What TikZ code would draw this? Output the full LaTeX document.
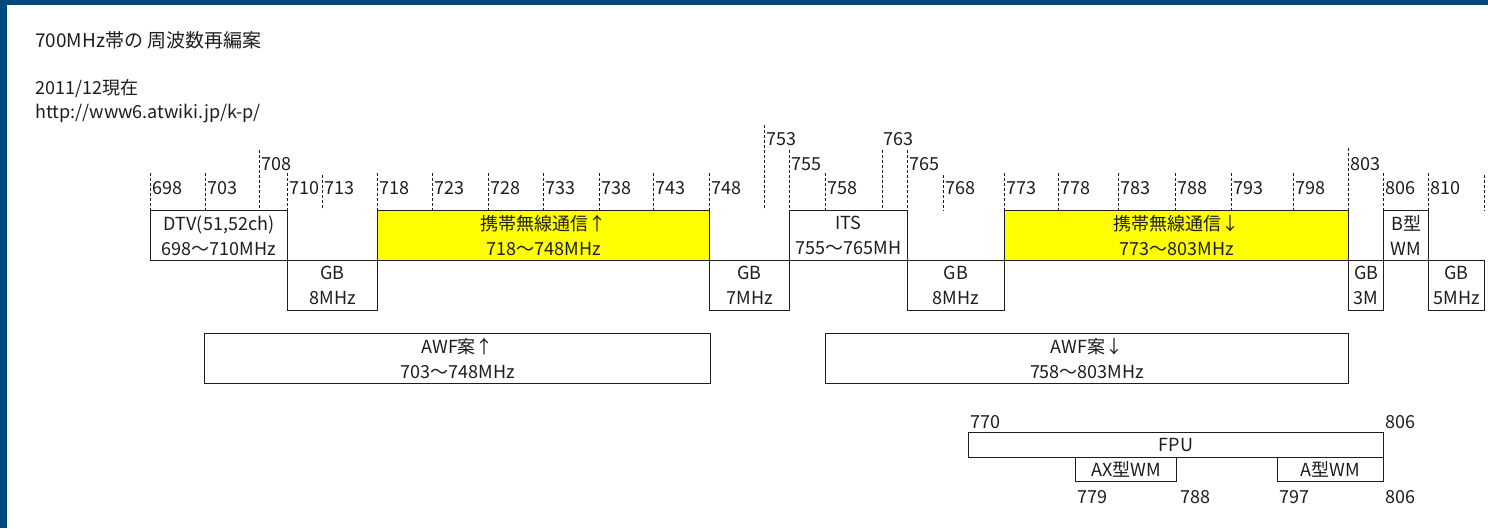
\documentclass[tikz,border=0pt]{standalone}
\usepackage{fontspec}
\setmainfont{Noto Sans CJK JP}
\definecolor{frameblue}{RGB}{0,73,125}
\definecolor{bandyellow}{RGB}{255,255,0}
\definecolor{ink}{RGB}{30,30,30}
\tikzset{
  band/.style={draw=ink, line width=1.2pt, fill=white, inner sep=0pt, anchor=north west,
    align=center, text=ink, font=\fontsize{18}{25}\selectfont},
  yband/.style={band, fill=bandyellow},
  ticklab/.style={anchor=west, inner sep=0pt, text=ink, font=\fontsize{18}{20}\selectfont},
  tickline/.style={draw=ink, line width=0.8pt, dash pattern=on 3pt off 2pt},
  plaintext/.style={anchor=west, inner sep=0pt, text=ink, font=\fontsize{18}{20}\selectfont},
}
% name, x, ytop, ybottom, label y, label text
\newcommand\freqtick[6]{%
  \coordinate (#1top) at (#2,#3);
  \coordinate (#1bot) at (#2,#4);
  \draw[tickline] (#1top) -- (#1bot);
  \node[ticklab] (#1) at (#2+2,#5) {#6};
}
% name, x0, y0, x1, y1, style, text
\newcommand\bandbox[7]{%
  \node[#6, minimum width=#4pt-#2pt, minimum height=#5pt-#3pt] (#1) at (#2,#3) {#7};
}
\begin{document}
\begin{tikzpicture}[x=1pt,y=-1pt]
\useasboundingbox (0,0) rectangle (1488,528);
\fill[white] (0,0) rectangle (1488,528);
\fill[frameblue] (0,0) rectangle (1488,5);
\fill[frameblue] (0,0) rectangle (7,528);

% header texts
\node[plaintext, font=\fontsize{19}{22}\selectfont] (title) at (35,40) {700MHz帯の 周波数再編案};
\node[plaintext] (date) at (35,89) {2011/12現在};
\node[plaintext] (url) at (35,114) {http://www6.atwiki.jp/k-p/};

% ticks, lowest label row
\freqtick{f698}{150}{173}{210}{188}{698}
\freqtick{f703}{205}{173}{210}{188}{703}
\freqtick{f710}{287}{173}{210}{188}{710}
\freqtick{f713}{322}{175}{210}{188}{713}
\freqtick{f718}{377}{173}{210}{188}{718}
\freqtick{f723}{432}{173}{210}{188}{723}
\freqtick{f728}{488}{173}{210}{188}{728}
\freqtick{f733}{543}{173}{210}{188}{733}
\freqtick{f738}{599}{173}{210}{188}{738}
\freqtick{f743}{653}{173}{210}{188}{743}
\freqtick{f748}{709}{173}{210}{188}{748}
\freqtick{f758}{825}{173}{210}{188}{758}
\freqtick{f768}{943}{175}{211}{188}{768}
\freqtick{f773}{1004}{173}{210}{188}{773}
\freqtick{f778}{1058}{173}{210}{188}{778}
\freqtick{f783}{1118}{173}{210}{188}{783}
\freqtick{f788}{1175}{173}{210}{188}{788}
\freqtick{f793}{1231}{173}{210}{188}{793}
\freqtick{f798}{1293}{173}{210}{188}{798}
\freqtick{f806}{1383}{173}{210}{188}{806}
\freqtick{f810}{1428}{173}{210}{188}{810}
\coordinate (f815top) at (1484,175);
\coordinate (f815bot) at (1484,211);
\draw[tickline] (f815top) -- (f815bot);
% middle label row
\freqtick{f708}{259}{150}{210}{164}{708}
\freqtick{f755}{789}{150}{210}{164}{755}
\freqtick{f765}{907}{150}{210}{164}{765}
\freqtick{f803}{1348}{148}{210}{164}{803}
% top label row
\freqtick{f753}{764}{125}{210}{139}{753}
\coordinate (f763top) at (882,150);
\coordinate (f763bot) at (882,210);
\draw[tickline] (f763top) -- (f763bot);
\node[ticklab] (f763) at (883,139) {763};

% band row 1
\bandbox{dtv}{150}{210}{287}{260}{band}{DTV(51,52ch)\\698〜710MHz}
\bandbox{upl}{377}{210}{709}{260}{yband}{携帯無線通信↑\\718〜748MHz}
\bandbox{its}{789}{210}{907}{260}{band}{ITS\\755〜765MH}
\bandbox{dnl}{1004}{210}{1348}{260}{yband}{携帯無線通信↓\\773〜803MHz}
\bandbox{bwm}{1383}{210}{1428}{260}{band}{B型\\WM}
% guard bands
\bandbox{gb1}{287}{260}{377}{310}{band}{GB\\8MHz}
\bandbox{gb2}{709}{260}{789}{310}{band}{GB\\7MHz}
\bandbox{gb3}{907}{260}{1004}{310}{band}{GB\\8MHz}
\bandbox{gb4}{1348}{260}{1383}{310}{band}{GB\\3M}
\bandbox{gb5}{1428}{260}{1484}{310}{band}{GB\\5MHz}
% AWF proposals
\bandbox{awfu}{204}{333}{710}{383}{band}{AWF案↑\\703〜748MHz}
\bandbox{awfd}{825}{333}{1348}{383}{band}{AWF案↓\\758〜803MHz}
% FPU
\bandbox{fpu}{968}{432}{1383}{457}{band}{FPU}
\bandbox{axwm}{1075}{457}{1176}{481}{band}{AX型WM}
\bandbox{awm}{1277}{457}{1383}{481}{band}{A型WM}
\node[plaintext] (l770) at (970,422) {770};
\node[plaintext] (l806a) at (1385,422) {806};
\node[plaintext] (l779) at (1077,497) {779};
\node[plaintext] (l788) at (1180,497) {788};
\node[plaintext] (l797) at (1279,497) {797};
\node[plaintext] (l806b) at (1385,497) {806};
\end{tikzpicture}
\end{document}
